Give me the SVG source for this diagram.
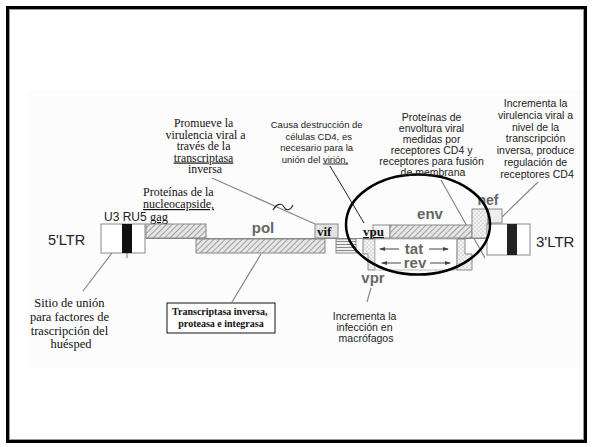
<svg xmlns="http://www.w3.org/2000/svg" width="592" height="447" viewBox="0 0 592 447">
<style>
.serif{font-family:"Liberation Serif","Times New Roman",serif;fill:#111}
.sans{font-family:"Liberation Sans",Arial,sans-serif;fill:#222}
.lbl{font-family:"Liberation Sans",Arial,sans-serif;font-weight:bold;fill:#666}
.ul{text-decoration:underline dotted}
.box{stroke:#888;stroke-width:1}
.conn{stroke:#888;stroke-width:1.2;fill:none}
.dark{stroke:#222;stroke-width:1;fill:none}
</style>
<defs>
<pattern id="hatch" patternUnits="userSpaceOnUse" width="4" height="4" patternTransform="rotate(45)">
<rect width="4" height="4" fill="#e6e6e6"/>
<line x1="0" y1="0" x2="0" y2="4" stroke="#777" stroke-width="1.3"/>
</pattern>
<pattern id="dots" patternUnits="userSpaceOnUse" width="4" height="4">
<rect width="4" height="4" fill="#f2f2f2"/>
<circle cx="1" cy="1" r="0.6" fill="#999"/>
<circle cx="3" cy="3" r="0.6" fill="#999"/>
</pattern>
<pattern id="hstripe" patternUnits="userSpaceOnUse" width="4" height="3">
<rect width="4" height="3" fill="#f0f0f0"/>
<line x1="0" y1="1.5" x2="4" y2="1.5" stroke="#888" stroke-width="1"/>
</pattern>
<marker id="ah" markerWidth="6" markerHeight="6" refX="5" refY="3" orient="auto" markerUnits="userSpaceOnUse">
<path d="M0,1 L6,3 L0,5 Z" fill="#444"/>
</marker>
</defs>
<rect width="592" height="447" fill="#fff"/>
<rect x="28" y="90" width="555" height="278" fill="#fcfcfc"/>
<rect x="7.5" y="7.5" width="578" height="434" fill="none" stroke="#000" stroke-width="3"/>
<rect x="9.5" y="9.5" width="574" height="430" fill="none" stroke="#999" stroke-width="1"/>

<g id="connectors">
<line class="conn" x1="146" y1="238.5" x2="487" y2="238.5"/>
<line class="conn" x1="112" y1="253" x2="83" y2="291"/>
<line class="conn" x1="127" y1="253" x2="127" y2="258"/>
<line class="conn" x1="261" y1="254" x2="232" y2="302"/>
<line class="conn" x1="212" y1="178" x2="315" y2="224"/>
<line class="dark" x1="330" y1="166" x2="364" y2="223"/>
<line class="conn" x1="441" y1="180" x2="485" y2="258"/>
<line class="conn" x1="538" y1="182" x2="502" y2="217"/>
<line class="conn" x1="371" y1="288" x2="367" y2="302"/>
<path d="M273,210 C277,203 282,203 284,207 C286,211 290,211 293,205" fill="none" stroke="#222" stroke-width="1.1"/>
</g>

<g id="ltr5">
<text class="sans" x="48" y="245" font-size="14.5">5'LTR</text>
<rect class="box" x="101" y="224" width="44" height="29" fill="#fff"/>
<rect x="122" y="224" width="10" height="29" fill="#111"/>
</g>

<g id="gag">
<rect class="box" x="146" y="224" width="60" height="14" fill="url(#hatch)"/>
<text x="104" y="221" font-size="12"><tspan class="sans">U3 RU5 </tspan><tspan class="serif ul" font-size="12.5">gag</tspan></text>
</g>

<g id="pol">
<rect class="box" x="196" y="239" width="129" height="14" fill="url(#hatch)"/>
<text class="lbl" x="263" y="233" font-size="15" text-anchor="middle">pol</text>
</g>

<g id="vif">
<rect class="box" x="315" y="224" width="23" height="14" fill="#e2e2e2"/>
<text class="serif" x="317" y="236" font-size="13" font-weight="bold">vif</text>
</g>

<g id="stripes">
<rect class="box" x="336" y="239" width="20" height="14" fill="url(#hstripe)"/>
</g>

<g id="vpu">
<rect class="box" x="373" y="225" width="17" height="13" fill="#f4f4f4"/>
<text class="serif ul" x="363" y="236" font-size="13" font-weight="bold">vpu</text>
</g>

<g id="env">
<rect class="box" x="390" y="225" width="82" height="13" fill="url(#hatch)"/>
<text class="lbl" x="430" y="219" font-size="15" text-anchor="middle">env</text>
</g>

<g id="vpr">
<path class="box" d="M363,239 H375 V270 H368 V254 H363 Z" fill="url(#dots)"/>
<text class="lbl" x="373" y="283" font-size="15" text-anchor="middle" fill="#555">vpr</text>
</g>

<g id="tatrev">
<rect x="375" y="239" width="82" height="31" fill="#fff" stroke="#bbb" stroke-width="1"/>
<path class="box" d="M457,239 H465 V254 H472 V270 H457 Z" fill="url(#dots)"/>
<line x1="399" y1="249" x2="380" y2="249" stroke="#444" stroke-width="1" marker-end="url(#ah)"/>
<line x1="429" y1="249" x2="448" y2="249" stroke="#444" stroke-width="1" marker-end="url(#ah)"/>
<text class="lbl" x="414" y="254" font-size="15" text-anchor="middle" fill="#555">tat</text>
<line x1="401" y1="263" x2="382" y2="263" stroke="#444" stroke-width="1" marker-end="url(#ah)"/>
<line x1="430" y1="263" x2="450" y2="263" stroke="#444" stroke-width="1" marker-end="url(#ah)"/>
<text class="lbl" x="415" y="268" font-size="15" text-anchor="middle" fill="#555">rev</text>
</g>

<g id="nef">
<rect class="box" x="472" y="209" width="16" height="29" fill="url(#dots)"/>
<rect class="box" x="488" y="209" width="14" height="14" fill="#eee"/>
<text class="lbl" x="488" y="205" font-size="14" text-anchor="middle" fill="#777">nef</text>
</g>

<g id="ltr3">
<rect class="box" x="487" y="224" width="43" height="31" fill="#fff"/>
<rect x="507" y="224" width="10" height="31" fill="#222"/>
<text class="sans" x="536" y="247" font-size="15">3'LTR</text>
</g>

<g id="ellipse">
<ellipse cx="418" cy="224.5" rx="72" ry="50" fill="none" stroke="#000" stroke-width="2.5"/>
</g>

<g id="note-promueve">
<text class="serif" font-size="11.8" text-anchor="middle">
<tspan x="205" y="127">Promueve la</tspan>
<tspan x="207" y="138.5">virulencia viral a</tspan>
<tspan x="205" y="150">través de la</tspan>
<tspan x="205" y="161.5" class="ul">transcriptasa</tspan>
<tspan x="205" y="173">inversa</tspan>
</text>
</g>

<g id="note-causa">
<text class="sans" font-size="9.5" text-anchor="middle">
<tspan x="318" y="128">Causa destrucción de</tspan>
<tspan x="320" y="139.5">células CD4, es</tspan>
<tspan x="318" y="151">necesario para la</tspan>
<tspan x="315" y="162.5">unión del <tspan class="ul">virión,</tspan></tspan>
</text>
</g>

<g id="note-proteinas-env">
<text class="sans" font-size="10.5" text-anchor="middle">
<tspan x="433" y="121">Proteínas de</tspan>
<tspan x="433" y="132">envoltura viral</tspan>
<tspan x="433" y="143">medidas por</tspan>
<tspan x="433" y="154">receptores CD4 y</tspan>
<tspan x="433" y="165">receptores para fusión</tspan>
<tspan x="433" y="176">de membrana</tspan>
</text>
</g>

<g id="note-nef">
<text class="sans" font-size="10.5" text-anchor="middle">
<tspan x="537" y="107">Incrementa la</tspan>
<tspan x="537" y="118.8">virulencia viral a</tspan>
<tspan x="537" y="130.6">nivel de la</tspan>
<tspan x="537" y="142.4">transcripción</tspan>
<tspan x="537" y="154.2">inversa, produce</tspan>
<tspan x="537" y="166">regulación de</tspan>
<tspan x="537" y="177.8">receptores CD4</tspan>
</text>
</g>

<g id="note-nucleocapside">
<text class="serif" font-size="12">
<tspan x="143" y="196">Proteínas de la</tspan>
<tspan x="143" y="208" class="ul">nucleocapside,</tspan>
</text>
</g>

<g id="note-sitio">
<text class="serif" font-size="12.5" text-anchor="middle">
<tspan x="71" y="307">Sitio de unión</tspan>
<tspan x="71" y="321">para factores de</tspan>
<tspan x="71" y="334.5">trascripción del</tspan>
<tspan x="71" y="348">huésped</tspan>
</text>
</g>

<g id="note-transcriptasa">
<rect x="167" y="303" width="108" height="30" fill="#fff" stroke="#111" stroke-width="1"/>
<text class="serif" font-size="10" font-weight="bold" text-anchor="middle">
<tspan x="221" y="315">Transcriptasa inversa,</tspan>
<tspan x="221" y="327">proteasa e integrasa</tspan>
</text>
</g>

<g id="note-vpr">
<text class="sans" font-size="10.5" text-anchor="middle">
<tspan x="366" y="320">Incrementa la</tspan>
<tspan x="366" y="331">infección en</tspan>
<tspan x="366" y="342">macrófagos</tspan>
</text>
</g>
</svg>
